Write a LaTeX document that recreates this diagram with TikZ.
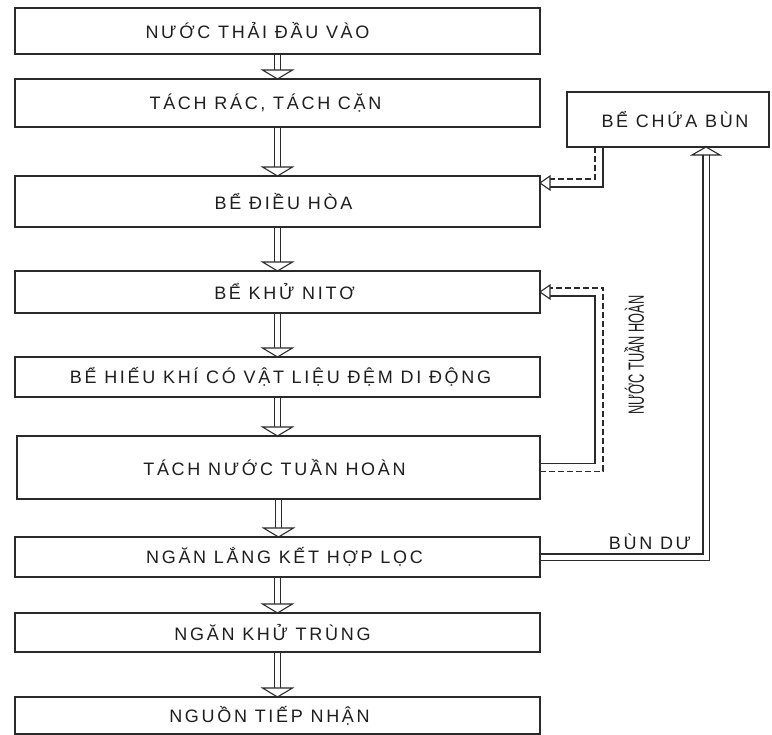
\documentclass[tikz,border=0pt]{standalone}
\usepackage{fontspec}
\setmainfont{Liberation Sans}[LetterSpace=15]
\newfontfamily\vfont{Liberation Sans}
\usetikzlibrary{calc}
\pgfdeclarelayer{bg}
\pgfsetlayers{bg,main}
\definecolor{boxc}{HTML}{2A2A2A}
\definecolor{txtc}{HTML}{1E1E1E}
% shift text horizontally inside a centred node by #1/2 pt
\newcommand\tx[2]{\hspace*{#1pt}#2}
\newcommand\flowdown[2]{%
  \draw[shaft] (#1.south) -- ($(#1.south |- #2.north)+(0,-9)$);
  \draw[head] (#1.south |- #2.north) -- ++(-15,-9) -- ++(30,0) -- cycle;}
\begin{document}
\begin{tikzpicture}[x=1pt,y=-1pt,
  box/.style={draw=boxc, line width=1.4pt, inner sep=0pt, outer sep=0pt,
    minimum width=525pt, text=txtc, font=\fontsize{18}{20}\selectfont},
  shaft/.style={draw=boxc, double=white, double distance=5pt, line width=1.1pt},
  head/.style={draw=boxc, fill=white, line width=1.1pt, line join=miter},
  solidln/.style={draw=boxc, line width=1.2pt},
  dashln/.style={draw=boxc, line width=1.2pt, dash pattern=on 6pt off 3pt},
  lbl/.style={text=txtc, font=\fontsize{18}{20}\selectfont, inner sep=0pt}]
\path[use as bounding box] (0,0) rectangle (772,735);

% process boxes
\node[box, minimum height=46] (b1) at (277.5,31) {\tx{-40}{NƯỚC THẢI ĐẦU VÀO}};
\node[box, minimum height=48] (b2) at (277.5,103) {\tx{-24}{TÁCH RÁC, TÁCH CẶN}};
\node[box, minimum height=51] (b3) at (277.5,201.5) {\tx{12}{BỂ ĐIỀU HÒA}};
\node[box, minimum height=42] (b4) at (277.5,292) {\tx{14}{BỂ KHỬ NITƠ}};
\node[box, minimum height=40] (b5) at (277.5,377) {\tx{6}{BỂ HIẾU KHÍ CÓ VẬT LIỆU ĐỆM DI ĐỘNG}};
\node[box, minimum height=63, minimum width=523] (b6) at (278.5,467.5) {\tx{-8}{TÁCH NƯỚC TUẦN HOÀN}};
\node[box, minimum height=40] (b7) at (277.5,557) {\tx{14}{NGĂN LẮNG KẾT HỢP LỌC}};
\node[box, minimum height=39] (b8) at (277.5,632.5) {\tx{-10}{NGĂN KHỬ TRÙNG}};
\node[box, minimum height=37] (b9) at (277.5,715.5) {\tx{-16}{NGUỒN TIẾP NHẬN}};
\node[box, minimum height=55, minimum width=202] (sl) at (668,119.5) {\tx{14}{BỂ CHỨA BÙN}};

% labels
\node[lbl] (bd) at (650,542) {BÙN DƯ};
\node[text=txtc, inner sep=0pt, rotate=90] (nth) at (634,355)
  {\scalebox{0.58}[1]{\vfont\fontsize{22}{24}\selectfont NƯỚC TUẦN HOÀN}};

\begin{pgfonlayer}{bg}
\fill[white] (0,0) rectangle (772,735);
% main flow
\flowdown{b1}{b2}
\flowdown{b2}{b3}
\flowdown{b3}{b4}
\flowdown{b4}{b5}
\flowdown{b5}{b6}
\flowdown{b6}{b7}
\flowdown{b7}{b8}
\flowdown{b8}{b9}

% sludge tank -> equalisation tank
\coordinate (s3) at ($(sl.south west)+(32,0)$);
\path (b3.north east) ++(0,7) coordinate (t3);
\draw[solidln] ($(s3)+(4,0)$) |- ($(t3)+(10,4)$);
\draw[dashln] ($(s3)+(-4,0)$) |- ($(t3)+(10,-4)$);
\draw[head] (t3) -- ++(10,-7) -- ++(0,14) -- cycle;

% recirculated water b6 -> b4
\draw[solidln] ($(b6.east)+(0,-4)$) -| ($(b4.east)+(55,4)$) -- ($(b4.east)+(10,4)$);
\draw[dashln] ($(b6.east)+(0,4)$) -| ($(b4.east)+(63,-4)$) -- ($(b4.east)+(10,-4)$);
\draw[head] (b4.east) -- ++(10,-7) -- ++(0,14) -- cycle;

% excess sludge b7 -> sludge tank
\coordinate (st) at ($(sl.south west)+(139,0)$);
\draw[shaft] (b7.east) -| ($(st)+(0,8)$);
\draw[head] (st) -- ++(-14,8) -- ++(28,0) -- cycle;
\end{pgfonlayer}
\end{tikzpicture}
\end{document}
